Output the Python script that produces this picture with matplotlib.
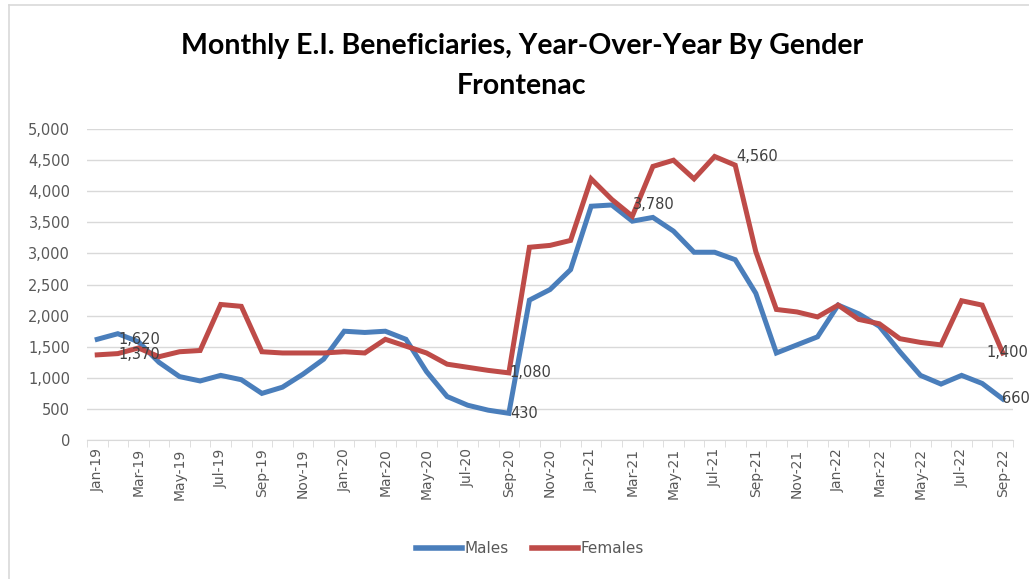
import matplotlib.pyplot as plt
from matplotlib.lines import Line2D

months = [
    "Jan-19", "Feb-19", "Mar-19", "Apr-19", "May-19", "Jun-19", "Jul-19", "Aug-19", "Sep-19", "Oct-19", "Nov-19", "Dec-19",
    "Jan-20", "Feb-20", "Mar-20", "Apr-20", "May-20", "Jun-20", "Jul-20", "Aug-20", "Sep-20", "Oct-20", "Nov-20", "Dec-20",
    "Jan-21", "Feb-21", "Mar-21", "Apr-21", "May-21", "Jun-21", "Jul-21", "Aug-21", "Sep-21", "Oct-21", "Nov-21", "Dec-21",
    "Jan-22", "Feb-22", "Mar-22", "Apr-22", "May-22", "Jun-22", "Jul-22", "Aug-22", "Sep-22",
]

males = [
    1620, 1710, 1580, 1250, 1020, 950, 1040, 970, 750, 850, 1060, 1300,
    1750, 1730, 1750, 1620, 1100, 700, 560, 480, 430, 2250, 2420, 2740,
    3760, 3780, 3520, 3580, 3360, 3020, 3020, 2900, 2360, 1400, 1530, 1660,
    2170, 2030, 1830, 1420, 1040, 900, 1040, 910, 660,
]

females = [
    1370, 1390, 1480, 1340, 1420, 1440, 2180, 2150, 1420, 1400, 1400, 1400,
    1420, 1400, 1620, 1510, 1400, 1220, 1170, 1120, 1080, 3100, 3130, 3210,
    4200, 3870, 3600, 4400, 4500, 4200, 4560, 4420, 3030, 2100, 2060, 1980,
    2170, 1940, 1870, 1630, 1570, 1530, 2240, 2170, 1400,
]

# data labels: (series, month index of the value, month index where the label sits)
labels = [
    (males, 0, 1), (females, 0, 1),
    (males, 20, 20), (females, 20, 20),
    (males, 25, 26), (females, 30, 31),
    (males, 44, 43.9), (females, 44, 43.15),
]

blue = "#4A7EBB"
red = "#BE4B48"
gray = "#595959"
title_font = ["Lato", "DejaVu Sans"]

fig = plt.figure(figsize=(10.29, 5.79), dpi=100)
ax = fig.add_axes([0.0845, 0.240, 0.9, 0.537])

x = list(range(len(months)))
ax.plot(x, males, color=blue, lw=3.6, solid_joinstyle="miter", zorder=3)
ax.plot(x, females, color=red, lw=3.6, solid_joinstyle="miter", zorder=3)

for series, i, pos in labels:
    val = series[i]
    ax.text(pos + 0.05, val, f"{val:,}", fontsize=10.5, color="#404040",
            va="center", ha="left", zorder=4)

ax.set_xlim(-0.5, len(months) - 0.5)
ax.set_ylim(0, 5000)
ax.set_yticks(range(0, 5001, 500))
ax.set_yticklabels([f"{v:,}" for v in range(0, 5001, 500)])
ax.yaxis.grid(True, color="#D9D9D9", lw=1)
ax.set_axisbelow(True)

ax.set_xticks(x[::2])
ax.set_xticklabels(months[::2], rotation=90)
ax.set_xticks([i - 0.5 for i in x] + [len(months) - 0.5], minor=True)
ax.tick_params(axis="x", which="major", length=0, pad=6, labelsize=10, labelcolor=gray)
ax.tick_params(axis="x", which="minor", length=5, color="#D9D9D9")
ax.tick_params(axis="y", length=0, labelsize=10.5, labelcolor=gray, pad=12)

for s in ["top", "right", "left"]:
    ax.spines[s].set_visible(False)
ax.spines["bottom"].set_color("#D9D9D9")

fig.text(0.507, 0.920, "Monthly E.I. Beneficiaries, Year-Over-Year By Gender",
         ha="center", va="center", fontsize=20.5, fontweight="bold", family=title_font)
fig.text(0.507, 0.852, "Frontenac", ha="center", va="center", fontsize=20.5,
         fontweight="bold", family=title_font)

handles = [Line2D([], [], color=blue, lw=4), Line2D([], [], color=red, lw=4)]
fig.legend(handles, ["Males", "Females"], loc="center", bbox_to_anchor=(0.515, 0.052),
           ncol=2, frameon=False, fontsize=11, handlelength=3.0, handletextpad=0.2,
           columnspacing=1.5, labelcolor=gray)

# chart border
fig.add_artist(Line2D([9 / 1029, 1], [1 - 5 / 579, 1 - 5 / 579], color="#D9D9D9", lw=1.2))
fig.add_artist(Line2D([9 / 1029, 9 / 1029], [0, 1 - 5 / 579], color="#D9D9D9", lw=1.2))

fig.savefig("out.png", dpi=100)
